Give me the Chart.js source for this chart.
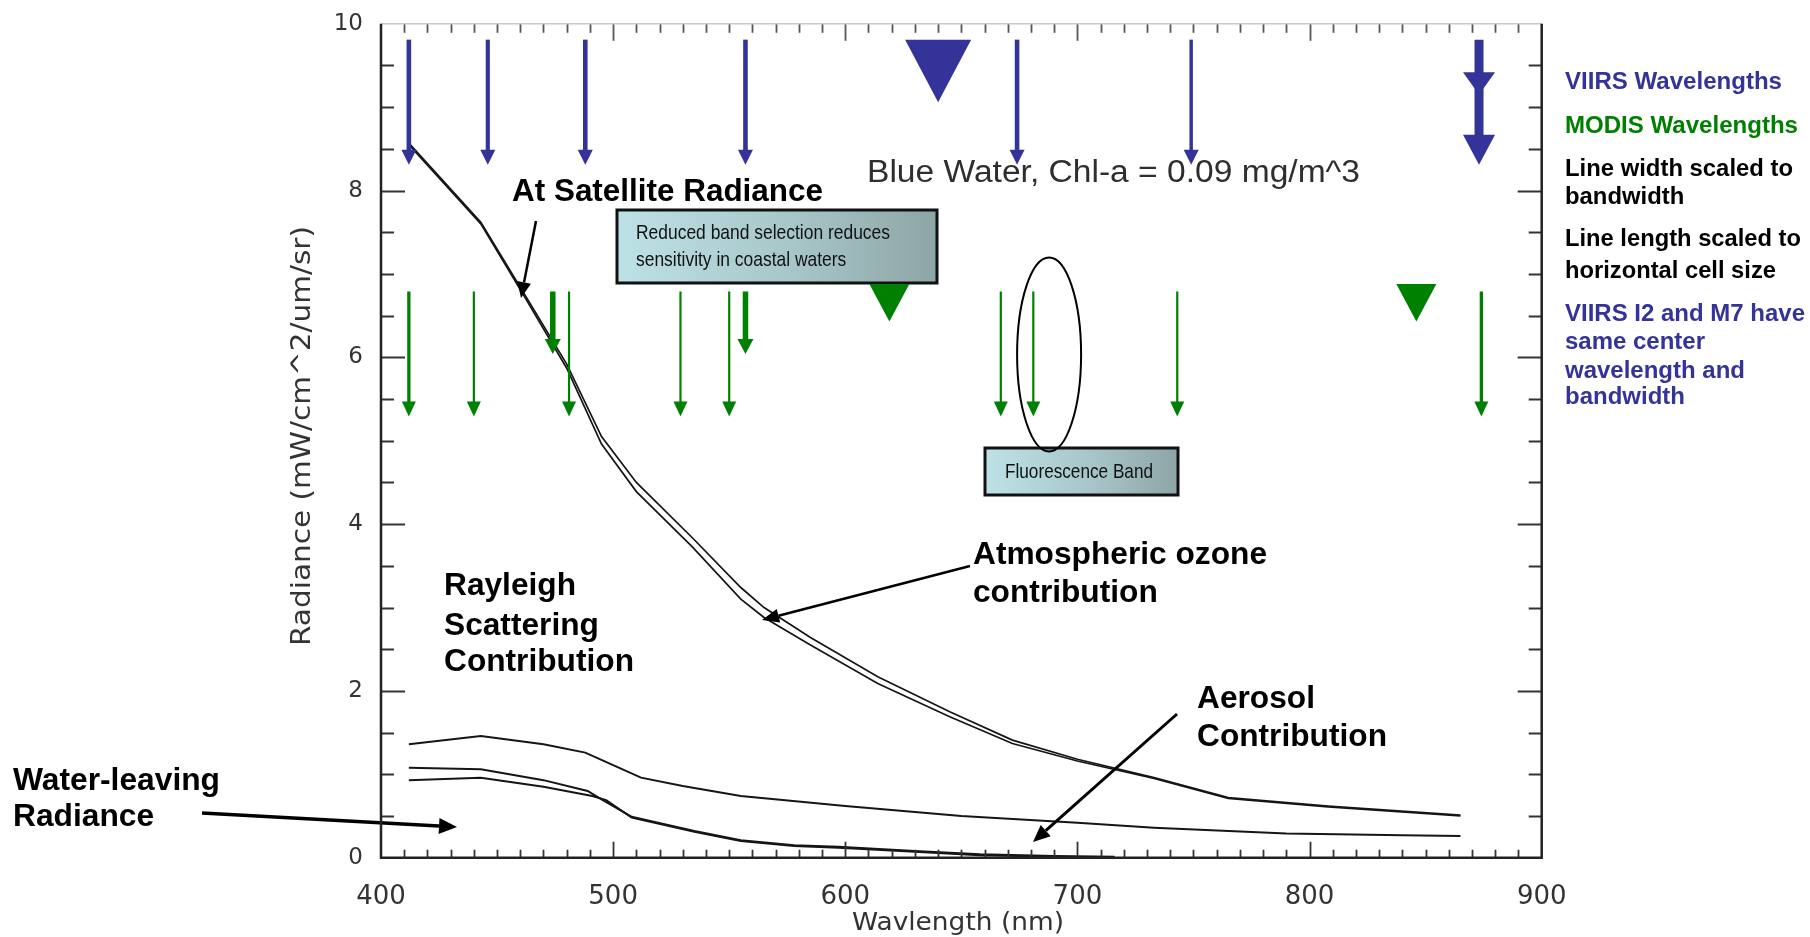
<!DOCTYPE html>
<html>
<head>
<meta charset="utf-8">
<script src="https://cdn.jsdelivr.net/npm/chart.js@4.4.1/dist/chart.umd.min.js"></script>
<style>
html,body{margin:0;padding:0;background:#fff;}
#c{display:block;}
</style>
</head>
<body>
<canvas id="c" width="1810" height="937"></canvas>
<script>
// ---------------- DATA ----------------
const xTickLabels = [400, 500, 600, 700, 800, 900];
const yTickLabels = [0, 2, 4, 6, 8, 10];

// Upper pair of curves (at-satellite radiance and with ozone contribution)
const wlTop = [412, 443, 462, 480, 495, 510, 534, 555, 565, 585, 614, 645, 672, 700, 733, 765, 808, 865];
const radAtSatellite = [8.57, 7.62, 6.75, 5.92, 5.05, 4.50, 3.84, 3.24, 3.00, 2.64, 2.17, 1.75, 1.41, 1.18, 0.96, 0.72, 0.62, 0.51];
const radOzone = [8.55, 7.60, 6.72, 5.87, 4.96, 4.39, 3.73, 3.10, 2.88, 2.55, 2.09, 1.69, 1.37, 1.16, 0.95, 0.71, 0.61, 0.50];

// Rayleigh scattering contribution
const wlRayleigh = [412, 443, 470, 488, 500, 512, 530, 555, 600, 650, 700, 733, 790, 840, 865];
const radRayleigh = [1.36, 1.46, 1.36, 1.26, 1.11, 0.96, 0.86, 0.74, 0.62, 0.50, 0.42, 0.36, 0.29, 0.27, 0.26];

// Lower curves (aerosol / water-leaving)
const wlAerosol = [412, 443, 470, 489, 495, 508, 516, 535, 555, 578, 597, 630, 658, 690, 716];
const radAerosol = [1.08, 1.06, 0.93, 0.80, 0.70, 0.49, 0.44, 0.32, 0.21, 0.15, 0.13, 0.08, 0.04, 0.02, 0.01];
const wlWater = [412, 443, 470, 491, 497, 508, 516, 535, 555, 578, 597, 630, 658, 690, 716];
const radWater = [0.93, 0.96, 0.85, 0.74, 0.69, 0.48, 0.43, 0.31, 0.20, 0.14, 0.12, 0.07, 0.03, 0.01, 0.0];

// Band centres (nm) and bandwidths (nm)
const viirsM = [412, 446, 488, 557, 674, 749];
const viirsMBandwidth = [20, 18, 20, 20, 20, 15];
const viirsI = [640];
const viirsM7I2 = [873];
const modis1km = [412, 440, 481, 529, 550, 667, 681, 743, 874];
const modis1kmBandwidth = [15, 10, 10, 10, 10, 10, 10, 10, 15];
const modis500m = [474, 557];
const modis250m = [619, 846];

// ---------------- STYLE ----------------
const BLUE = '#333399';
const GREEN = '#008000';
const LINE = '#151515';

function pts(xs, ys){ return xs.map((x,i)=>({x:x, y:ys[i]})); }

function arrowDown(ctx, x, yTop, yTip, lw, headLen, headHalf, color){
  ctx.save();
  ctx.strokeStyle = color; ctx.fillStyle = color; ctx.lineWidth = lw; ctx.lineCap='butt';
  ctx.beginPath(); ctx.moveTo(x, yTop); ctx.lineTo(x, yTip - headLen + 1); ctx.stroke();
  ctx.beginPath(); ctx.moveTo(x - headHalf, yTip - headLen); ctx.lineTo(x + headHalf, yTip - headLen); ctx.lineTo(x, yTip); ctx.closePath(); ctx.fill();
  ctx.restore();
}
function triDown(ctx, x, yTop, yTip, half, color){
  ctx.save(); ctx.fillStyle = color;
  ctx.beginPath(); ctx.moveTo(x-half, yTop); ctx.lineTo(x+half, yTop); ctx.lineTo(x, yTip); ctx.closePath(); ctx.fill();
  ctx.restore();
}
function pointer(ctx, x1, y1, x2, y2, lw, headLen, headHalf){
  const a = Math.atan2(y2-y1, x2-x1);
  const bx = x2 - Math.cos(a)*headLen, by = y2 - Math.sin(a)*headLen;
  ctx.save(); ctx.strokeStyle='#000'; ctx.fillStyle='#000'; ctx.lineWidth=lw;
  ctx.beginPath(); ctx.moveTo(x1,y1); ctx.lineTo(bx,by); ctx.stroke();
  ctx.beginPath(); ctx.moveTo(x2,y2);
  ctx.lineTo(bx - Math.sin(a)*headHalf, by + Math.cos(a)*headHalf);
  ctx.lineTo(bx + Math.sin(a)*headHalf, by - Math.cos(a)*headHalf);
  ctx.closePath(); ctx.fill(); ctx.restore();
}
function textBlock(ctx, lines, x, ys, font, color, refIdx, refW, align){
  ctx.save();
  ctx.font = font;
  const s = refW / ctx.measureText(lines[refIdx]).width;
  lines.forEach((t,i)=>{
    ctx.save(); ctx.translate(x, ys[i]); ctx.scale(s,1);
    ctx.fillStyle = color; ctx.textBaseline='middle'; ctx.textAlign = align || 'left';
    ctx.fillText(t,0,0); ctx.restore();
  });
  ctx.restore();
}
function gradBox(ctx, x0, y0, x1, y1){
  ctx.save();
  const g = ctx.createLinearGradient(x0,0,x1,0);
  g.addColorStop(0,'#bde2e6'); g.addColorStop(0.55,'#a7c6c9'); g.addColorStop(1,'#8ea5a6');
  ctx.fillStyle = g; ctx.fillRect(x0,y0,x1-x0,y1-y0);
  ctx.strokeStyle='#111'; ctx.lineWidth=3; ctx.strokeRect(x0,y0,x1-x0,y1-y0);
  ctx.restore();
}

const overlay = {
  id: 'overlay',
  afterDatasetsDraw(chart){
    const ctx = chart.ctx, X = chart.scales.x, Y = chart.scales.y;
    const px = v => X.getPixelForValue(v), py = v => Y.getPixelForValue(v);

    // boxes
    gradBox(ctx, 617, 210, 937, 283);
    gradBox(ctx, 985, 448, 1178, 495);
    textBlock(ctx, ['Reduced band selection reduces','sensitivity in coastal waters'], 636, [233, 260], '21px "Liberation Sans", Arial, sans-serif', '#111', 0, 254);
    textBlock(ctx, ['Fluorescence Band'], 1005, [472], '21px "Liberation Sans", Arial, sans-serif', '#111', 0, 148);

    // ellipse around fluorescence band
    ctx.save(); ctx.strokeStyle='#000'; ctx.lineWidth=2;
    ctx.beginPath(); ctx.ellipse(px(687.8), py(6.035), 32, 97, 0, 0, Math.PI*2); ctx.stroke(); ctx.restore();

    // VIIRS (blue)
    const bTop = py(9.81), bTip = py(8.31);
    viirsM.forEach((w,i)=> arrowDown(ctx, px(w), bTop, bTip, viirsMBandwidth[i]*0.23, 15, 7.5, BLUE));
    viirsI.forEach(w=> triDown(ctx, px(w), bTop, py(9.06), 33, BLUE));
    viirsM7I2.forEach(w=>{
      arrowDown(ctx, px(w), bTop, bTip, 9, 30, 16, BLUE);
      triDown(ctx, px(w), py(9.42), py(9.15), 16, BLUE);
    });

    // MODIS (green)
    const gTop = py(6.79), gTip = py(5.29), gTipShort = py(6.04);
    modis1km.forEach((w,i)=> arrowDown(ctx, px(w), gTop, gTip, modis1kmBandwidth[i]*0.22, 15, 7, GREEN));
    modis500m.forEach(w=> arrowDown(ctx, px(w), gTop, gTipShort, 5.5, 15, 8, GREEN));
    modis250m.forEach(w=> triDown(ctx, px(w), py(6.88), py(6.43), 20, GREEN));

    // annotation arrows
    pointer(ctx, 536, 221, 521, 298, 2.5, 16, 7);
    pointer(ctx, 970, 566, 762, 620, 2.5, 17, 7);
    pointer(ctx, 1177, 714, 1033, 842, 3, 17, 7.5);
    pointer(ctx, 202, 813, 457, 827, 3.5, 18, 8);

    // annotation text
    const bold = '"Liberation Sans", Arial, sans-serif';
    textBlock(ctx, ['At Satellite Radiance'], 512, [192], 'bold 31px '+bold, '#000', 0, 311);
    textBlock(ctx, ['Rayleigh','Scattering','Contribution'], 444, [586, 626, 662], 'bold 31px '+bold, '#000', 2, 190);
    textBlock(ctx, ['Atmospheric ozone','contribution'], 973, [555, 593], 'bold 31px '+bold, '#000', 0, 294);
    textBlock(ctx, ['Aerosol','Contribution'], 1197, [699, 737], 'bold 31px '+bold, '#000', 1, 190);
    textBlock(ctx, ['Water-leaving','Radiance'], 13, [781, 817], 'bold 31px '+bold, '#000', 0, 207);
    textBlock(ctx, ['Blue Water, Chl-a = 0.09 mg/m^3'], 867, [173], '31px '+bold, '#2e2e2e', 0, 493);

    // right legend
    const lf = 'bold 23px '+bold;
    textBlock(ctx, ['VIIRS Wavelengths'], 1565, [83], lf, BLUE, 0, 217);
    textBlock(ctx, ['MODIS Wavelengths'], 1565, [127], lf, GREEN, 0, 233);
    textBlock(ctx, ['Line width scaled to','bandwidth'], 1565, [170, 198], lf, '#000', 0, 228);
    textBlock(ctx, ['Line length scaled to','horizontal cell size'], 1565, [240, 272], lf, '#000', 0, 236);
    textBlock(ctx, ['VIIRS I2 and M7 have','same center','wavelength and','bandwidth'], 1565, [315, 343, 372, 398], lf, BLUE, 0, 240);
  },
  afterDraw(chart){
    const ctx = chart.ctx, X = chart.scales.x, Y = chart.scales.y;
    const a = chart.chartArea;
    ctx.save();
    // ticks
    ctx.strokeStyle = '#333'; ctx.lineWidth = 2;
    for(let k=1;k<20;k++){
      const v = k*0.5, y = Math.round(Y.getPixelForValue(v))+0.5;
      const L = (k%4===0) ? 24 : 13;
      ctx.beginPath(); ctx.moveTo(a.left, y); ctx.lineTo(a.left+L, y); ctx.stroke();
      ctx.beginPath(); ctx.moveTo(a.right, y); ctx.lineTo(a.right-L, y); ctx.stroke();
    }
    ctx.lineWidth = 1.8;
    for(let w=410; w<900; w+=10){
      const x = Math.round(X.getPixelForValue(w))+0.5;
      const major = (w%100===0);
      ctx.strokeStyle='#333';
      ctx.beginPath(); ctx.moveTo(x, a.bottom); ctx.lineTo(x, a.bottom-(major?16:8)); ctx.stroke();
      ctx.strokeStyle='#555';
      ctx.beginPath(); ctx.moveTo(x, a.top); ctx.lineTo(x, a.top+(major?17:9)); ctx.stroke();
    }
    // frame
    ctx.strokeStyle = '#c8c8c8'; ctx.lineWidth = 1.5;
    ctx.beginPath(); ctx.moveTo(a.left, a.top); ctx.lineTo(a.right, a.top); ctx.stroke();
    ctx.strokeStyle = '#222'; ctx.lineWidth = 2.5;
    ctx.beginPath(); ctx.moveTo(a.left, a.top); ctx.lineTo(a.left, a.bottom); ctx.lineTo(a.right, a.bottom); ctx.lineTo(a.right, a.top); ctx.stroke();
    ctx.restore();
    // axis titles
    const tf = '"DejaVu Sans", sans-serif';
    textBlock(ctx, ['Wavlength (nm)'], 958, [923], '25px '+tf, '#333', 0, 212, 'center');
    ctx.save(); ctx.translate(303, 436); ctx.rotate(-Math.PI/2);
    textBlock(ctx, ['Radiance (mW/cm^2/um/sr)'], 0, [0], '26px '+tf, '#333', 0, 420, 'center');
    ctx.restore();
  }
};

const lineDs = (data, w) => ({data, borderColor: LINE, borderWidth: w, pointRadius: 0, fill: false, tension: 0});

new Chart(document.getElementById('c').getContext('2d'), {
  type: 'line',
  data: {
    datasets: [
      lineDs(pts(wlTop, radAtSatellite), 1.7),
      lineDs(pts(wlTop, radOzone), 1.7),
      lineDs(pts(wlRayleigh, radRayleigh), 2),
      lineDs(pts(wlAerosol, radAerosol), 2),
      lineDs(pts(wlWater, radWater), 2)
    ]
  },
  options: {
    responsive: false,
    animation: false,
    events: [],
    layout: { autoPadding: false, padding: { left: 0, right: 268.3, top: 11, bottom: 0 } },
    plugins: { legend: { display: false }, tooltip: { enabled: false } },
    scales: {
      x: {
        type: 'linear', min: 400, max: 900,
        grid: { display: false }, border: { display: false },
        afterBuildTicks: s => { s.ticks = xTickLabels.map(v => ({value: v})); },
        ticks: { font: { family: 'DejaVu Sans', size: 26 }, color: '#333', padding: 16, maxRotation: 0 },
        afterFit: s => { s.height = 79.3; }
      },
      y: {
        type: 'linear', min: 0, max: 10,
        grid: { display: false }, border: { display: false },
        afterBuildTicks: s => { s.ticks = yTickLabels.map(v => ({value: v})); },
        ticks: { font: { family: 'DejaVu Sans', size: 23 }, color: '#333', padding: 10 },
        afterFit: s => { s.width = 381; }
      }
    }
  },
  plugins: [overlay]
});
</script>
</body>
</html>
